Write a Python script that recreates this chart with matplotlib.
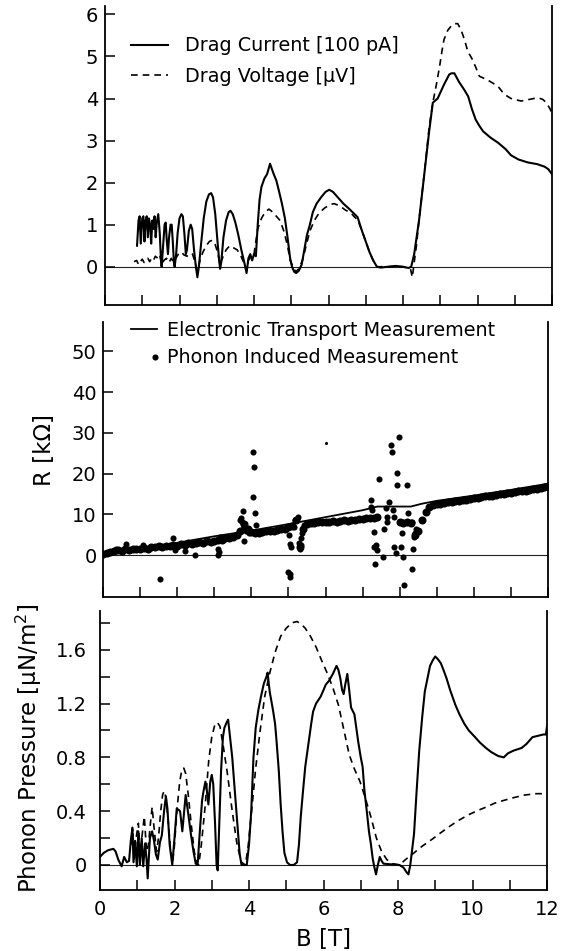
import matplotlib
matplotlib.use("Agg")
import matplotlib.pyplot as plt
from matplotlib.lines import Line2D
from matplotlib.legend_handler import HandlerLine2D

# ---------------- data ----------------
# Top panel: drag current [100 pA] (solid) and drag voltage [uV] (dashed)
cur_B = [0.86, 0.90, 0.93, 0.96, 1.00, 1.03, 1.06, 1.09, 1.12, 1.15, 1.18, 1.21, 1.24, 1.27, 1.30,
         1.33, 1.36, 1.39, 1.43, 1.47, 1.50, 1.52, 1.56, 1.60, 1.63, 1.66, 1.69, 1.72, 1.76, 1.79,
         1.82, 1.85, 1.87, 1.91, 1.95, 2.00, 2.05, 2.09, 2.13, 2.17, 2.20, 2.25, 2.30, 2.34, 2.39,
         2.44, 2.48, 2.52, 2.58, 2.65, 2.72, 2.79, 2.85, 2.90, 2.96, 3.02, 3.07, 3.09, 3.12, 3.18,
         3.25, 3.32, 3.37, 3.43, 3.50, 3.58, 3.66, 3.74, 3.80, 3.85, 3.90, 3.95, 4.00, 4.05, 4.10,
         4.15, 4.20, 4.28, 4.35, 4.40, 4.43, 4.47, 4.53, 4.60, 4.67, 4.75, 4.83, 4.90, 4.97, 5.02,
         5.08, 5.13, 5.20, 5.28, 5.35, 5.42, 5.50, 5.58, 5.68, 5.80, 5.92, 6.02, 6.12, 6.25, 6.40,
         6.55, 6.70, 6.78, 6.90, 7.00, 7.10, 7.20, 7.30, 7.40, 7.60, 7.80, 8.00, 8.15, 8.22, 8.30,
         8.43, 8.57, 8.70, 8.80, 8.93, 9.10, 9.24, 9.30, 9.38, 9.50, 9.65, 9.75, 9.85, 9.95, 10.05,
         10.15, 10.35, 10.55, 10.75, 10.90, 11.10, 11.35, 11.60, 11.80, 11.90, 12.00]
cur_val = [0.50, 1.10, 1.20, 0.55, 1.15, 1.20, 0.60, 1.10, 1.20, 0.70, 1.15, 1.00, 0.55, 1.10, 0.90,
           1.20, 0.70, 1.05, 1.25, 0.80, 0.20, 0.00, 0.50, 1.00, 1.05, 0.60, 0.30, 0.70, 1.00, 1.00,
           0.60, 0.10, 0.00, 0.30, 0.80, 1.15, 1.25, 1.20, 0.80, 0.30, 0.40, 0.85, 1.00, 0.90, 0.40,
           0.00, -0.25, 0.00, 0.55, 1.15, 1.55, 1.72, 1.75, 1.65, 1.25, 0.60, 0.10, -0.05, 0.10, 0.70,
           1.10, 1.30, 1.33, 1.25, 1.05, 0.75, 0.40, 0.10, -0.15, 0.20, 0.30, 0.15, 0.30, 0.25, 1.00,
           1.60, 1.90, 2.10, 2.20, 2.35, 2.45, 2.35, 2.20, 2.05, 1.80, 1.50, 1.15, 0.70, 0.20, 0.00,
           -0.12, -0.15, -0.10, 0.05, 0.40, 0.75, 1.00, 1.30, 1.50, 1.65, 1.78, 1.83, 1.78, 1.65, 1.50,
           1.38, 1.25, 1.18, 0.85, 0.60, 0.35, 0.15, 0.00, -0.02, 0.00, 0.02, 0.00, -0.03, 0.00, 0.30,
           1.10, 2.20, 3.20, 3.90, 4.00, 4.33, 4.57, 4.60, 4.60, 4.40, 4.20, 4.05, 3.75, 3.50, 3.35,
           3.22, 3.07, 2.95, 2.80, 2.65, 2.55, 2.48, 2.44, 2.38, 2.32, 2.20]

volt_B = [0.78, 0.85, 0.90, 0.95, 1.00, 1.05, 1.10, 1.15, 1.20, 1.25, 1.30, 1.35, 1.42, 1.47, 1.52,
          1.58, 1.65, 1.72, 1.78, 1.85, 1.90, 1.97, 2.05, 2.12, 2.20, 2.28, 2.35, 2.42, 2.48, 2.55,
          2.63, 2.72, 2.80, 2.88, 2.95, 3.02, 3.09, 3.15, 3.25, 3.35, 3.45, 3.55, 3.65, 3.75, 3.80,
          3.85, 3.92, 4.00, 4.10, 4.20, 4.30, 4.40, 4.50, 4.60, 4.70, 4.80, 4.90, 4.97, 5.05, 5.12,
          5.20, 5.30, 5.40, 5.50, 5.62, 5.75, 5.90, 6.05, 6.15, 6.30, 6.45, 6.60, 6.70, 6.78, 6.90,
          7.00, 7.10, 7.20, 7.30, 7.50, 8.00, 8.20, 8.25, 8.30, 8.36, 8.43, 8.57, 8.70, 8.80, 8.90,
          8.98, 9.05, 9.10, 9.20, 9.29, 9.38, 9.47, 9.56, 9.65, 9.74, 9.85, 9.95, 10.05, 10.25, 10.54,
          10.72, 10.90, 11.17, 11.40, 11.62, 11.75, 11.85, 11.95, 12.02]
volt_val = [0.12, 0.15, 0.05, 0.12, 0.18, 0.10, 0.15, 0.20, 0.12, 0.20, 0.15, 0.25, 0.20, 0.28, 0.05,
            0.15, 0.20, 0.10, 0.20, 0.10, 0.20, 0.30, 0.35, 0.28, 0.25, 0.32, 0.30, 0.10, -0.10, 0.15,
            0.35, 0.50, 0.60, 0.63, 0.55, 0.35, 0.05, 0.20, 0.40, 0.50, 0.45, 0.40, 0.25, 0.05, -0.10,
            0.15, 0.25, 0.30, 0.90, 1.15, 1.30, 1.37, 1.30, 1.20, 1.10, 0.85, 0.50, 0.15, 0.00, -0.12,
            -0.05, 0.15, 0.50, 0.85, 1.10, 1.28, 1.40, 1.48, 1.50, 1.45, 1.35, 1.28, 1.18, 1.12, 0.85,
            0.60, 0.35, 0.15, 0.00, 0.00, 0.00, -0.05, -0.25, 0.10, 0.50, 1.10, 2.20, 3.30, 3.90, 4.35,
            4.75, 5.15, 5.40, 5.62, 5.72, 5.78, 5.78, 5.63, 5.40, 5.12, 4.95, 4.75, 4.53, 4.45, 4.30,
            4.10, 4.00, 3.94, 3.98, 4.02, 3.98, 3.90, 3.75, 3.60]

# Middle panel: resistance R [kOhm]
trans_B = [0.0, 1.0, 2.0, 3.0, 4.0, 5.0, 6.0, 7.0, 7.4, 8.3, 8.6, 9.0, 10.0, 11.0, 12.0]
trans_R = [0.0, 1.5, 3.0, 4.6, 6.0, 7.6, 9.3, 11.0, 11.9, 11.9, 12.6, 13.3, 14.6, 16.0, 17.5]

band_B = [0.0, 0.1, 0.2, 0.3, 0.4, 0.5, 0.6, 0.7, 0.8, 0.9,
          1.0, 1.1, 1.2, 1.3, 1.4, 1.5, 1.6, 1.7, 1.8, 1.9,
          2.0, 2.1, 2.2, 2.3, 2.4, 2.5, 2.6, 2.7, 2.8, 2.9,
          3.0, 3.1, 3.2, 3.3, 3.4, 3.5, 3.6, 3.7, 3.8, 3.9,
          4.0, 4.1, 4.2, 4.3, 4.4, 4.5, 4.6, 4.7, 4.8, 4.9,
          5.0, 5.1, 5.2, 5.3, 5.4, 5.5, 5.6, 5.7, 5.8, 5.9,
          6.0, 6.1, 6.2, 6.3, 6.4, 6.5, 6.6, 6.7, 6.8, 6.9,
          7.0, 7.1, 7.2, 7.3, 7.4,
          8.0, 8.1, 8.2, 8.3, 8.4, 8.5, 8.6, 8.7, 8.8, 8.9,
          9.0, 9.1, 9.2, 9.3, 9.4, 9.5, 9.6, 9.7, 9.8, 9.9,
          10.0, 10.1, 10.2, 10.3, 10.4, 10.5, 10.6, 10.7, 10.8, 10.9,
          11.0, 11.1, 11.2, 11.3, 11.4, 11.5, 11.6, 11.7, 11.8, 11.9, 12.0]
band_R = [0.3, 0.5, 0.8, 0.9, 1.2, 1.0, 1.4, 1.3, 1.5, 1.6,
          1.4, 1.8, 1.6, 2.0, 1.9, 2.2, 2.0, 2.3, 2.1, 2.4,
          2.3, 2.6, 2.5, 2.9, 2.7, 3.0, 3.2, 2.9, 3.4, 3.3,
          3.5, 3.8, 3.7, 4.1, 4.3, 4.5, 4.8, 6.0, 7.5, 6.5,
          5.6, 5.4, 5.5, 5.7, 5.8, 5.9, 6.0, 6.2, 6.3, 6.5,
          6.8, 7.2, 8.6, 2.0, 6.5, 7.6, 7.8, 7.9, 8.0, 8.0,
          8.1, 8.2, 8.3, 8.2, 8.4, 8.5, 8.4, 8.6, 8.7, 8.8,
          8.9, 9.0, 9.1, 9.2, 9.3,
          8.0, 7.9, 8.0, 7.8, 5.0, 6.0, 8.6, 10.5, 11.8, 12.3,
          12.5, 12.6, 12.8, 12.9, 13.0, 13.2, 13.3, 13.5, 13.6, 13.8,
          14.0, 14.1, 14.2, 14.4, 14.5, 14.6, 14.8, 14.9, 15.0, 15.2,
          15.3, 15.4, 15.6, 15.7, 15.8, 16.0, 16.1, 16.3, 16.4, 16.6, 16.9]

extra_B = [0.36, 0.63, 1.08, 1.53, 1.89, 1.94, 2.20, 2.48, 2.66, 3.10, 3.12, 3.10, 3.15,
           3.69, 3.72, 3.75, 3.77, 3.78, 3.81, 3.85, 3.90, 3.95, 4.04, 4.08, 4.05, 4.10, 4.12,
           5.00, 5.02, 5.03, 5.04, 5.05, 5.06, 5.14, 5.18, 5.27, 5.28, 5.31, 5.33, 5.35, 5.37, 5.41,
           7.23, 7.23, 7.25, 7.30, 7.32, 7.36, 7.38, 7.34, 7.45, 7.56, 7.58, 7.64, 7.66, 7.65, 7.71,
           7.77, 7.80, 7.83, 7.86, 7.85, 7.89, 7.93, 7.93, 7.97, 8.03, 8.05, 8.07, 8.09, 8.12, 8.21,
           8.23, 8.22, 8.32, 8.33, 8.37, 8.38, 8.42, 8.45]
extra_R = [1.6, 2.6, 2.5, -5.9, 4.3, 1.2, 1.1, 0.0, 2.9, 0.0, 0.8, 1.6, 4.5,
           8.6, 9.0, 8.0, 10.9, 6.5, 3.4, 5.8, 6.3, 5.5, 14.3, 21.7, 25.3, 10.2, 7.3,
           -4.1, 4.9, -5.3, 2.7, -4.6, 2.0, 7.0, 8.6, 9.4, 3.0, 1.6, 2.4, 4.2, 5.3, 7.4,
           13.5, 11.7, 11.1, 5.7, 2.0, 2.5, 1.2, -2.2, 18.6, -0.4, 6.4, 11.5, 9.4, 8.2, 13.1,
           27.0, 25.2, 11.1, 9.4, 2.0, 0.4, 20.1, 17.2, 28.9, 2.0, 5.5, 8.2, -0.4, -7.4, 17.2,
           10.2, 8.0, 8.0, -3.4, 1.6, 4.5, 5.5, 6.5]
lone_B = [6.02]
lone_R = [27.5]

# Bottom panel: phonon pressure [uN/m^2]
pp_B = [0.00, 0.10, 0.22, 0.36, 0.42, 0.49, 0.58, 0.65, 0.72, 0.78, 0.83, 0.87, 0.90, 0.94, 0.99,
        1.03, 1.07, 1.12, 1.16, 1.21, 1.25, 1.28, 1.34, 1.40, 1.45, 1.50, 1.55, 1.61, 1.66, 1.72,
        1.77, 1.81, 1.87, 1.94, 2.00, 2.06, 2.11, 2.15, 2.21, 2.26, 2.30, 2.35, 2.44, 2.51, 2.57,
        2.62, 2.68, 2.74, 2.78, 2.83, 2.87, 2.91, 2.96, 3.00, 3.04, 3.09, 3.13, 3.16, 3.20, 3.25,
        3.30, 3.34, 3.40, 3.44, 3.49, 3.55, 3.62, 3.69, 3.75, 3.80, 3.88, 3.94, 4.00, 4.06, 4.12,
        4.18, 4.25, 4.32, 4.40, 4.47, 4.50, 4.53, 4.56, 4.60, 4.65, 4.70, 4.74, 4.80, 4.85, 4.90,
        4.95, 5.02, 5.10, 5.20, 5.29, 5.34, 5.39, 5.45, 5.51, 5.57, 5.62, 5.67, 5.72, 5.80, 5.92,
        6.00, 6.06, 6.15, 6.25, 6.35, 6.40, 6.45, 6.50, 6.54, 6.59, 6.64, 6.69, 6.74, 6.83, 6.93,
        7.00, 7.05, 7.10, 7.17, 7.22, 7.27, 7.32, 7.36, 7.41, 7.46, 7.51, 7.56, 7.61, 7.80, 8.04,
        8.15, 8.22, 8.28, 8.33, 8.43, 8.50, 8.57, 8.65, 8.72, 8.80, 8.86, 8.93, 9.00, 9.07, 9.15,
        9.22, 9.30, 9.40, 9.54, 9.65, 9.78, 9.90, 10.07, 10.20, 10.36, 10.50, 10.69, 10.84, 10.95,
        11.10, 11.32, 11.45, 11.61, 11.75, 11.90, 11.97, 12.00]
pp_val = [0.06, 0.09, 0.11, 0.12, 0.10, 0.04, -0.01, 0.06, 0.02, 0.03, 0.19, 0.27, 0.02, 0.18, -0.01,
          0.25, 0.00, 0.20, -0.01, 0.16, 0.04, -0.10, 0.20, 0.25, 0.18, 0.08, 0.04, 0.17, 0.22, 0.40,
          0.51, 0.42, 0.15, 0.00, 0.20, 0.42, 0.41, 0.40, 0.25, 0.40, 0.52, 0.42, 0.23, 0.10, 0.01,
          0.00, 0.25, 0.48, 0.55, 0.62, 0.55, 0.45, 0.62, 0.67, 0.60, 0.30, 0.00, -0.04, 0.30, 0.70,
          0.95, 1.02, 1.06, 1.08, 0.95, 0.80, 0.55, 0.30, 0.08, 0.00, 0.00, 0.00, 0.15, 0.40, 0.80,
          1.02, 1.15, 1.25, 1.35, 1.40, 1.43, 1.35, 1.28, 1.22, 1.14, 1.05, 0.92, 0.70, 0.45, 0.25,
          0.09, 0.02, 0.00, 0.00, 0.02, 0.15, 0.36, 0.55, 0.73, 0.85, 0.95, 1.05, 1.14, 1.20, 1.25,
          1.30, 1.34, 1.37, 1.42, 1.48, 1.45, 1.39, 1.30, 1.27, 1.35, 1.42, 1.30, 1.17, 1.12, 0.92,
          0.80, 0.73, 0.55, 0.38, 0.25, 0.16, 0.05, -0.01, -0.07, 0.00, 0.06, 0.03, 0.01, 0.005, 0.00,
          -0.02, -0.05, -0.07, 0.00, 0.23, 0.55, 0.85, 1.10, 1.29, 1.40, 1.48, 1.52, 1.55, 1.53, 1.50,
          1.45, 1.39, 1.30, 1.19, 1.12, 1.05, 1.00, 0.95, 0.91, 0.87, 0.84, 0.81, 0.80, 0.83,
          0.85, 0.87, 0.90, 0.95, 0.96, 0.97, 0.97, 1.03]

th_B = [0.85, 0.87, 0.92, 0.97, 1.03, 1.08, 1.13, 1.19, 1.25, 1.30, 1.35, 1.40, 1.46, 1.52, 1.57,
        1.63, 1.68, 1.72, 1.77, 1.83, 1.89, 1.95, 2.00, 2.07, 2.14, 2.20, 2.25, 2.30, 2.37, 2.45,
        2.53, 2.60, 2.65, 2.72, 2.82, 2.92, 3.00, 3.08, 3.15, 3.22, 3.30, 3.42, 3.55, 3.68, 3.80,
        3.90, 3.97, 4.08, 4.18, 4.30, 4.42, 4.55, 4.70, 4.85, 5.00, 5.15, 5.29, 5.40, 5.51, 5.65,
        5.80, 5.95, 6.11, 6.26, 6.40, 6.55, 6.69, 6.82, 6.98, 7.12, 7.27, 7.42, 7.56, 7.70, 7.85,
        8.04, 8.20, 8.43, 8.65, 8.91, 9.15, 9.40, 9.62, 9.87, 10.10, 10.36, 10.60, 10.84, 11.10,
        11.40, 11.70, 12.00]
th_val = [0.15, 0.28, 0.05, 0.20, 0.31, 0.05, 0.22, 0.36, 0.10, 0.15, 0.30, 0.43, 0.25, 0.10, 0.20,
          0.40, 0.52, 0.55, 0.50, 0.33, 0.12, 0.02, 0.15, 0.42, 0.62, 0.71, 0.72, 0.68, 0.52, 0.30,
          0.10, 0.01, 0.00, 0.15, 0.43, 0.78, 0.95, 1.04, 1.06, 1.03, 0.90, 0.68, 0.40, 0.15, 0.02,
          0.00, 0.12, 0.43, 0.72, 1.00, 1.25, 1.42, 1.58, 1.70, 1.76, 1.80, 1.81, 1.79, 1.76, 1.70,
          1.62, 1.52, 1.42, 1.31, 1.19, 1.00, 0.82, 0.72, 0.62, 0.50, 0.36, 0.20, 0.10, 0.04, 0.01,
          0.00, 0.04, 0.09, 0.14, 0.19, 0.24, 0.29, 0.33, 0.37, 0.40, 0.43, 0.46, 0.48, 0.50,
          0.52, 0.53, 0.53]

top_yticks = [0, 1, 2, 3, 4, 5, 6]
mid_yticks = [0, 10, 20, 30, 40, 50]
bot_yticks = [0, 0.2, 0.4, 0.6, 0.8, 1.0, 1.2, 1.4, 1.6, 1.8]
bot_yticklabels = ["0", "", "0.4", "", "0.8", "", "1.2", "", "1.6", ""]
x_ticks = list(range(0, 13))
x_ticklabels = ["0", "", "2", "", "4", "", "6", "", "8", "", "10", "", "12"]

# ---------------- figure ----------------
plt.rcParams['font.family'] = ['DejaVu Sans']
W, H = 565, 951
fig = plt.figure(figsize=(W / 100, H / 100), dpi=100)


def rect(l, t, r, b):
    return [l / W, 1 - b / H, (r - l) / W, (b - t) / H]


ax1 = fig.add_axes(rect(105, 6, 552, 305))
ax2 = fig.add_axes(rect(103, 322, 548, 597))
ax3 = fig.add_axes(rect(100, 611, 547, 890))

TICK_FS = 14
LBL_FS = 16.5
LEG_FS = 13.8

for ax in (ax1, ax2, ax3):
    ax.set_xlim(0, 12)
    ax.spines['top'].set_visible(False)
    for s in ('left', 'right', 'bottom'):
        ax.spines[s].set_linewidth(1.3)
    ax.axhline(0, color='#222222', lw=0.8, zorder=1)
    ax.set_xticks(x_ticks)
    ax.tick_params(direction='in', length=7, width=1.1, labelsize=TICK_FS,
                   top=False, right=False)

# top panel
ax1.plot(cur_B, cur_val, color='black', lw=1.5, solid_joinstyle='round')
ax1.plot(volt_B, volt_val, color='black', lw=1.2, linestyle=(0, (4, 3)))
ax1.set_ylim(-0.91, 6.2)
ax1.set_yticks(top_yticks)
ax1.set_xticklabels([])
ax1.tick_params(axis='y', pad=5)
h1 = [Line2D([], [], color='black', lw=1.5),
      Line2D([], [], color='black', lw=1.2, linestyle=(0, (4, 3)))]
ax1.legend(h1, ["Drag Current [100 pA]", "Drag Voltage [\u03bcV]"], loc='upper left',
           bbox_to_anchor=(0.058, 0.898), frameon=False, borderpad=0, borderaxespad=0,
           handlelength=1.95, handletextpad=0.85, labelspacing=0.6, fontsize=LEG_FS)

# middle panel
ax2.plot(trans_B, trans_R, color='black', lw=1.3)
ax2.plot(band_B, band_R, 'o', color='black', ms=5.8, mec='none')
ax2.plot(extra_B, extra_R, 'o', color='black', ms=4.4, mec='none')
ax2.plot(lone_B, lone_R, 'o', color='black', ms=2.2, mec='none')
ax2.set_ylim(-10.3, 57.2)
ax2.set_yticks(mid_yticks)
ax2.set_xticklabels([])
ax2.tick_params(axis='y', pad=4.6)
ax2.set_ylabel("R [k\u03a9]", fontsize=LBL_FS, va='center')
ax2.yaxis.set_label_coords((45 - 103) / 445, 1 - (450 - 322) / 275)


class DotRight(HandlerLine2D):
    def create_artists(self, legend, orig_handle, xdescent, ydescent, width, height,
                       fontsize, trans):
        arts = super().create_artists(legend, orig_handle, xdescent, ydescent, width,
                                      height, fontsize, trans)
        for a in arts:
            if a.get_marker() not in (None, 'None', '', ' '):
                a.set_xdata([-xdescent + width * 0.93])
        return arts


h2 = [Line2D([], [], color='black', lw=1.3),
      Line2D([], [], marker='o', ls='none', color='black', ms=4.4, mec='none')]
ax2.legend(h2, ["Electronic Transport Measurement", "Phonon Induced Measurement"],
           loc='upper left', bbox_to_anchor=(0.064, 1.005), frameon=False, borderpad=0,
           borderaxespad=0, handlelength=1.33, handletextpad=0.5, labelspacing=0.45,
           fontsize=LEG_FS, handler_map={h2[1]: DotRight(numpoints=1)})

# bottom panel
ax3.plot(pp_B, pp_val, color='black', lw=1.5, solid_joinstyle='round')
ax3.plot(th_B, th_val, color='black', lw=1.2, linestyle=(0, (4, 3)))
ax3.set_ylim(-0.186, 1.888)
ax3.set_yticks(bot_yticks)
ax3.set_yticklabels(bot_yticklabels)
ax3.set_xticklabels(x_ticklabels)
ax3.tick_params(axis='y', pad=9.5)
ax3.tick_params(axis='x', pad=7)
ax3.set_ylabel("Phonon Pressure [\u03bcN/m$^2$]", fontsize=LBL_FS, va='center')
ax3.yaxis.set_label_coords((29 - 100) / 447, 1 - (748 - 611) / 279)
ax3.set_xlabel("B [T]", fontsize=LBL_FS, va='center')
ax3.xaxis.set_label_coords(0.5, 1 - (940 - 611) / 279)

fig.savefig("out.png", dpi=100)
